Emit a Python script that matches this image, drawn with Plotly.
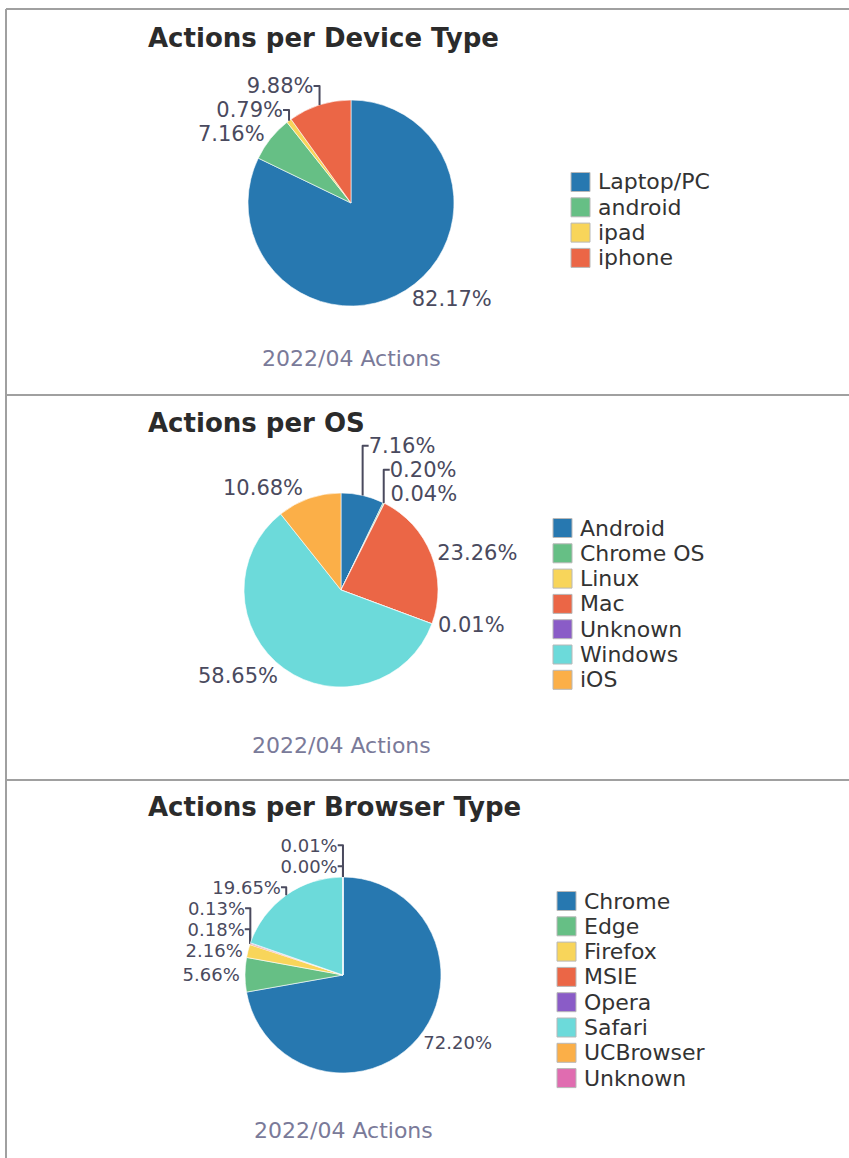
import plotly.graph_objects as go

W, H = 849, 1158

# ── Data ────────────────────────────────────────────────────────────────────
device_labels = ["Laptop/PC", "android", "ipad", "iphone"]
device_values = [82.17, 7.16, 0.79, 9.88]

os_labels = ["Android", "Chrome OS", "Linux", "Mac", "Unknown", "Windows", "iOS"]
os_values = [7.16, 0.20, 0.04, 23.26, 0.01, 58.65, 10.68]

browser_labels = ["Chrome", "Edge", "Firefox", "MSIE", "Opera", "Safari", "UCBrowser", "Unknown"]
browser_values = [72.20, 5.66, 2.16, 0.18, 0.13, 19.65, 0.00, 0.01]

titles = ["Actions per Device Type", "Actions per OS", "Actions per Browser Type"]
subtitle = "2022/04 Actions"

palette = ["#2778b0", "#66bf85", "#f8d55a", "#eb6646", "#8a5cc7",
           "#6cdada", "#fbaf48", "#e06cb0"]

# ── Layout helpers (pixel → paper) ──────────────────────────────────────────

def px_x(x):
    return x / W


def px_y(y):
    return 1 - y / H


# pie centre / radius, legend anchor (square left, first row centre), title y,
# subtitle y, percent-label size (browser pie has a long stack of tiny slices)
panels = [
    dict(labels=device_labels, values=device_values, cx=351, cy=203, r=103,
         leg=(571, 182), ty=38, sy=358, fs=21),
    dict(labels=os_labels, values=os_values, cx=341, cy=590, r=97,
         leg=(553, 528), ty=423, sy=745, fs=21),
    dict(labels=browser_labels, values=browser_values, cx=343, cy=975, r=98,
         leg=(557, 901), ty=807, sy=1130, fs=18),
]
ROW = 25.3
SQ = 19

fig = go.Figure()
annotations = []
shapes = []

for i, p in enumerate(panels):
    # zero-width suffix keeps pies from sharing slice identity across panels
    uid_labels = [lab + "\u200b" * i for lab in p["labels"]]
    colors = palette[: len(p["labels"])]
    fig.add_trace(
        go.Pie(
            labels=uid_labels,
            values=p["values"],
            sort=False,
            direction="clockwise",
            rotation=0,
            texttemplate="%{value:.2f}%",
            textposition="outside",
            textfont=dict(family="DejaVu Sans", size=p["fs"], color="#4a4a5e"),
            marker=dict(colors=colors, line=dict(color="white", width=0.6)),
            domain=dict(
                x=[px_x(p["cx"] - p["r"]), px_x(p["cx"] + p["r"])],
                y=[px_y(p["cy"] + p["r"]), px_y(p["cy"] - p["r"])],
            ),
            showlegend=False,
            hoverinfo="label+percent",
        )
    )

    # legend: coloured square + label per category
    lx, ly = p["leg"]
    for j, (lab, col) in enumerate(zip(p["labels"], colors)):
        yc = ly + j * ROW
        shapes.append(dict(
            type="rect", xref="paper", yref="paper",
            x0=px_x(lx), x1=px_x(lx + SQ), y0=px_y(yc + SQ / 2), y1=px_y(yc - SQ / 2),
            fillcolor=col, line=dict(color="#b8b8b8", width=1),
        ))
        annotations.append(dict(
            text=lab, x=px_x(lx + SQ + 6), y=px_y(yc),
            xref="paper", yref="paper", xanchor="left", yanchor="middle",
            showarrow=False, font=dict(family="DejaVu Sans", size=22, color="#333333"),
        ))

    annotations.append(dict(
        text=f"<b>{titles[i]}</b>", x=px_x(146), y=px_y(p["ty"]),
        xref="paper", yref="paper", xanchor="left", yanchor="middle",
        showarrow=False, font=dict(family="DejaVu Sans", size=26, color="#2b2b2b"),
    ))
    annotations.append(dict(
        text=subtitle, x=px_x(p["cx"]), y=px_y(p["sy"]),
        xref="paper", yref="paper", xanchor="center", yanchor="middle",
        showarrow=False, font=dict(family="DejaVu Sans", size=22, color="#7a7a99"),
    ))

# panel frame
border = dict(color="#a0a0a0", width=2)
for y in (9, 395, 780):
    shapes.append(dict(type="line", xref="paper", yref="paper",
                       x0=px_x(6), x1=1, y0=px_y(y), y1=px_y(y), line=border))
shapes.append(dict(type="line", xref="paper", yref="paper",
                   x0=px_x(6), x1=px_x(6), y0=px_y(9), y1=0, line=border))

fig.update_layout(
    width=W,
    height=H,
    margin=dict(l=0, r=0, t=0, b=0),
    paper_bgcolor="white",
    plot_bgcolor="white",
    annotations=annotations,
    shapes=shapes,
)

fig.write_html(
    "out.html",
    config={"displayModeBar": False},
    post_script="document.body.style.margin='0';",
)
